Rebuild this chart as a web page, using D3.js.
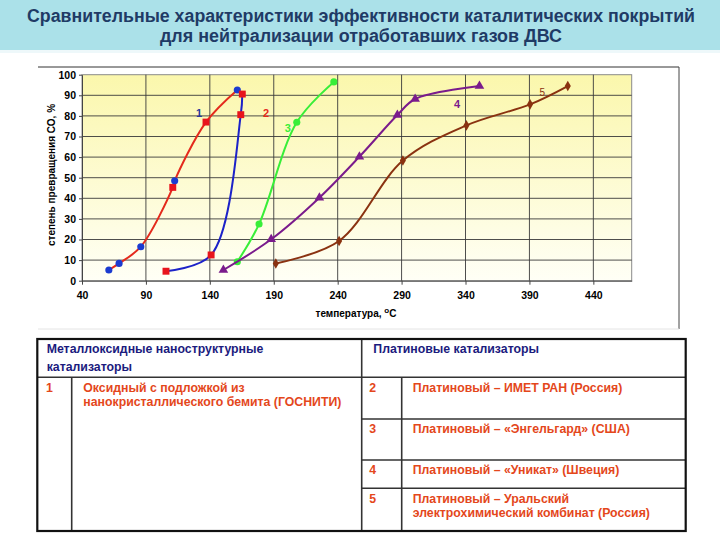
<!DOCTYPE html>
<html>
  <head>
    <meta charset="utf-8">
    <title>Каталитические покрытия</title>
    <script src="https://cdn.jsdelivr.net/npm/d3@7"></script>
    <style>
      body { margin: 0; background: #fff; }
      svg { display: block; font-family: Arial, "Liberation Sans", sans-serif; }
    </style>
  </head>
  <body>
    <svg id="slide" width="720" height="540"></svg>
    <script>
      // values
      const tempTicks = [40, 90, 140, 190, 240, 290, 340, 390, 440];
      const convTicks = [0, 10, 20, 30, 40, 50, 60, 70, 80, 90, 100];
      const temp1 = [61, 69, 86, 111, 112.5, 137, 161.5];
      const conv1 = [5.2, 8.4, 16.5, 45.3, 48.5, 77, 92.6];
      const marks1 = ["circle", "circle", "circle", "square", "circle", "square", "circle"];
      const temp2 = [105.7, 141, 164.2, 165.4];
      const conv2 = [4.6, 12.5, 80.6, 90.6];
      const temp3 = [161.5, 178.5, 208, 237];
      const conv3 = [9.2, 27.5, 76.9, 96.5];
      const temp4 = [150.6, 188, 225.7, 257, 286.7, 300.6, 350.9];
      const conv4 = [5.2, 20.1, 40.3, 60.2, 80.4, 88.2, 94.5];
      const temp5 = [191.6, 241.1, 291, 340.7, 390.5, 420];
      const conv5 = [8.4, 19.3, 58.3, 75.4, 85.6, 94.5];
      const curveNames = ["1", "2", "3", "4", "5"];

      // texts
      const titleLines = [
        "Сравнительные характеристики эффективности каталитических покрытий",
        "для нейтрализации отработавших газов ДВС"
      ];
      const yTitle = "степень превращения СО, %";
      const xTitle = "температура, ";
      const tableHeads = [
        ["Металлоксидные наноструктурные", "катализаторы"],
        ["Платиновые катализаторы"]
      ];
      const oxideNames = [["Оксидный с подложкой из", "нанокристаллического бемита (ГОСНИТИ)"]];
      const platinumNames = [
        ["Платиновый – ИМЕТ РАН (Россия)"],
        ["Платиновый – «Энгельгард» (США)"],
        ["Платиновый – «Уникат» (Швеция)"],
        ["Платиновый – Уральский", "электрохимический комбинат (Россия)"]
      ];

      const svg = d3.select("#slide");
      const red = "#e42a1c", blue = "#1c22c8", green = "#38ee38", purple = "#7a1b8c", brown = "#8a3210";
      const textRed = "#e4471b", navy = "#1b1b7e";

      // title band
      svg.append("rect").attr("x", 0).attr("y", 0).attr("width", 720).attr("height", 50).attr("fill", "#abe1e9");
      svg.append("rect").attr("x", 0).attr("y", 50).attr("width", 720).attr("height", 3).attr("fill", "#eef8fa");
      svg.selectAll(".title")
        .data(titleLines)
        .enter().append("text")
          .attr("x", 361)
          .attr("y", function(d, i) { return 22 + i * 20; })
          .attr("text-anchor", "middle")
          .attr("font-size", 17.5)
          .attr("font-weight", "bold")
          .attr("fill", "#1f3b66")
          .attr("textLength", function(d, i) { return i == 0 ? 668 : 402; })
          .attr("lengthAdjust", "spacingAndGlyphs")
          .text(function(d) { return d; });

      // chart frame
      svg.append("line").attr("x1", 38).attr("x2", 679).attr("y1", 67).attr("y2", 67).attr("stroke", "#333");
      svg.append("line").attr("x1", 679).attr("x2", 679).attr("y1", 67).attr("y2", 329).attr("stroke", "#444");
      svg.append("line").attr("x1", 38).attr("x2", 679).attr("y1", 329).attr("y2", 329).attr("stroke", "#e4e4e4");

      // scales
      const x = d3.scaleLinear().domain([40, 470]).range([82, 631.7]);
      const y = d3.scaleLinear().domain([0, 100]).range([280.7, 74.7]);

      // plot background
      const grad = svg.append("defs").append("linearGradient")
        .attr("id", "bg").attr("x1", 0).attr("x2", 0).attr("y1", 0).attr("y2", 1);
      grad.append("stop").attr("offset", "0%").attr("stop-color", "#fbf7ac");
      grad.append("stop").attr("offset", "100%").attr("stop-color", "#fffff6");
      svg.append("rect")
        .attr("x", x(40)).attr("y", y(100))
        .attr("width", x(470) - x(40)).attr("height", y(0) - y(100))
        .attr("fill", "url(#bg)")
        .attr("stroke", "#8a8a8a");

      // grid
      const grid = svg.append("g");
      grid.selectAll(".hgrid")
        .data(convTicks.slice(1, -1))
        .enter().append("line")
          .attr("x1", x(40)).attr("x2", x(470))
          .attr("y1", function(d) { return y(d); })
          .attr("y2", function(d) { return y(d); })
          .attr("stroke", "#3a3a3a").attr("stroke-width", 0.9);
      grid.selectAll(".vgrid")
        .data(tempTicks.slice(1))
        .enter().append("line")
          .attr("x1", function(d) { return x(d); })
          .attr("x2", function(d) { return x(d); })
          .attr("y1", y(0)).attr("y2", y(100))
          .attr("stroke", "#3a3a3a").attr("stroke-width", 0.9);

      // axes
      svg.append("g")
        .attr("transform", "translate(" + x(40) + ",0)")
        .call(d3.axisLeft(y).tickValues(convTicks).tickSize(3).tickSizeOuter(0).tickPadding(3));
      svg.append("g")
        .attr("transform", "translate(0," + y(0) + ")")
        .call(d3.axisBottom(x).tickValues(tempTicks).tickSize(4).tickSizeOuter(0).tickPadding(7));
      svg.selectAll(".tick text")
        .attr("font-family", "Arial, 'Liberation Sans', sans-serif")
        .attr("font-size", 10.5)
        .attr("font-weight", "bold")
        .attr("fill", "#000");
      svg.selectAll(".domain, .tick line").attr("stroke", "#444");

      // axis titles
      svg.append("text")
        .attr("transform", "translate(55,175) rotate(-90)")
        .attr("text-anchor", "middle")
        .attr("font-size", 10)
        .attr("font-weight", "bold")
        .text(yTitle);
      const xt = svg.append("text")
        .attr("x", 356).attr("y", 317)
        .attr("text-anchor", "middle")
        .attr("font-size", 10)
        .attr("font-weight", "bold")
        .text(xTitle);
      xt.append("tspan").attr("dy", -4).attr("font-size", 8).text("o");
      xt.append("tspan").attr("dy", 4).text("С");

      // series
      const series = [
        { temp: temp1, conv: conv1, marks: marks1, line: red, name: curveNames[0], at: [131.5, 81.4], tc: "#28379a" },
        { temp: temp2, conv: conv2, marks: temp2.map(function() { return "square"; }), line: blue, name: curveNames[1], at: [184, 81.4], tc: red },
        { temp: temp3, conv: conv3, marks: temp3.map(function() { return "gcircle"; }), line: green, name: curveNames[2], at: [201, 74], tc: green },
        { temp: temp4, conv: conv4, marks: temp4.map(function() { return "triangle"; }), line: purple, name: curveNames[3], at: [333.4, 86], tc: purple },
        { temp: temp5, conv: conv5, marks: temp5.map(function() { return "diamond"; }), line: brown, name: curveNames[4], at: [400, 91.6], tc: brown }
      ];
      const markStyle = {
        circle: { type: d3.symbolCircle, size: 40, fill: "#1b3bd0" },
        gcircle: { type: d3.symbolCircle, size: 40, fill: green },
        square: { type: d3.symbolSquare, size: 48, fill: "#e8141c" },
        triangle: { type: d3.symbolTriangle, size: 40, fill: purple },
        diamond: { type: d3.symbolDiamond, size: 32, fill: brown }
      };
      const line = d3.line()
        .x(function(d) { return x(d[0]); })
        .y(function(d) { return y(d[1]); })
        .curve(d3.curveCatmullRom.alpha(0.5));

      series.forEach(function(s) {
        const pts = s.temp.map(function(t, i) { return [t, s.conv[i], s.marks[i]]; });
        svg.append("path")
          .datum(pts)
          .attr("d", line)
          .attr("fill", "none")
          .attr("stroke", s.line)
          .attr("stroke-width", 2);
        svg.selectAll(null)
          .data(pts)
          .enter().append("path")
            .attr("transform", function(d) { return "translate(" + x(d[0]) + "," + y(d[1]) + ")"; })
            .attr("d", function(d) { return d3.symbol().type(markStyle[d[2]].type).size(markStyle[d[2]].size)(); })
            .attr("fill", function(d) { return markStyle[d[2]].fill; });
        svg.append("text")
          .attr("x", x(s.at[0])).attr("y", y(s.at[1]))
          .attr("text-anchor", "middle")
          .attr("dominant-baseline", "central")
          .attr("font-size", s.name == "5" ? 10 : 11)
          .attr("font-weight", s.name == "5" ? "normal" : "bold")
          .attr("fill", s.tc)
          .text(s.name);
      });

      // table
      const colX = [37.3, 71.7, 361.7, 401.7, 685.7];
      const rowY = [339, 377.3, 419, 460, 488.3, 531];
      const table = svg.append("g");
      const inner = [
        [colX[0], rowY[1], colX[4], rowY[1]],
        [colX[2], rowY[0], colX[2], rowY[5]],
        [colX[1], rowY[1], colX[1], rowY[5]],
        [colX[3], rowY[1], colX[3], rowY[5]],
        [colX[2], rowY[2], colX[4], rowY[2]],
        [colX[2], rowY[3], colX[4], rowY[3]],
        [colX[2], rowY[4], colX[4], rowY[4]]
      ];
      table.selectAll(".inner")
        .data(inner)
        .enter().append("line")
          .attr("x1", function(d) { return d[0]; })
          .attr("y1", function(d) { return d[1]; })
          .attr("x2", function(d) { return d[2]; })
          .attr("y2", function(d) { return d[3]; })
          .attr("stroke", "#333")
          .attr("stroke-width", 1.6);
      table.append("rect")
        .attr("x", colX[0]).attr("y", rowY[0])
        .attr("width", colX[4] - colX[0]).attr("height", rowY[5] - rowY[0])
        .attr("fill", "none").attr("stroke", "#111").attr("stroke-width", 2.2);

      function cellText(lines, tx, ty, color, lh) {
        const t = table.append("text")
          .attr("font-size", 12.3)
          .attr("font-weight", "bold")
          .attr("fill", color);
        lines.forEach(function(l, i) {
          t.append("tspan").attr("x", tx).attr("y", ty + i * lh).text(l);
        });
      }
      cellText(tableHeads[0], 46.7, 353.3, navy, 17.4);
      cellText(tableHeads[1], 373.3, 353.3, navy, 17.4);
      cellText([curveNames[0]], 46, 391.7, textRed, 14.4);
      cellText(oxideNames[0], 83.3, 391.7, textRed, 14.4);
      platinumNames.forEach(function(p, i) {
        cellText([curveNames[i + 1]], 369.3, rowY[i + 1] + 14.4, textRed, 14.4);
        cellText(p, 412.7, rowY[i + 1] + 14.4, textRed, 14.6);
      });
    </script>
  </body>
</html>
